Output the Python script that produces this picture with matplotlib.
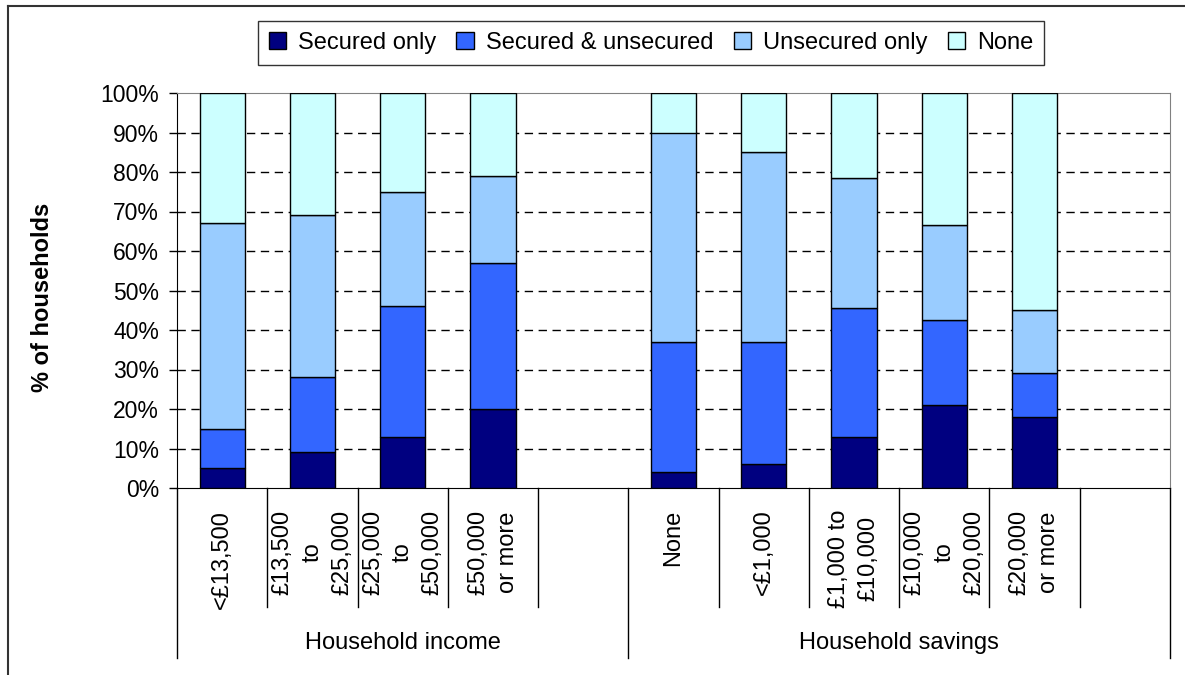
import matplotlib.pyplot as plt
import matplotlib.transforms as mtransforms
from matplotlib.lines import Line2D

plt.rcParams['font.family'] = ['Liberation Sans', 'DejaVu Sans']

# data (percent of households)
series = ["Secured only", "Secured & unsecured", "Unsecured only", "None"]
colors = ["#000080", "#3366FF", "#99CCFF", "#CCFFFF"]

income_labels = ["<£13,500", "£13,500\nto\n£25,000", "£25,000\nto\n£50,000", "£50,000\nor more"]
income_secured = [5, 9, 13, 20]
income_both = [10, 19, 33, 37]
income_unsecured = [52, 41, 29, 22]
income_none = [33, 31, 25, 21]

savings_labels = ["None", "<£1,000", "£1,000 to\n£10,000", "£10,000\nto\n£20,000", "£20,000\nor more"]
savings_secured = [4, 6, 13, 21, 18]
savings_both = [33, 31, 32.5, 21.5, 11]
savings_unsecured = [53, 48, 33, 24, 16]
savings_none = [10, 15, 21.5, 33.5, 55]

groups = ["Household income", "Household savings"]

# layout: income bars in slots 0-3, blank slot 4, savings bars 5-9, blank slot 10
n_slots = 11
xs = list(range(len(income_labels))) + [len(income_labels) + 1 + i for i in range(len(savings_labels))]
labels = income_labels + savings_labels
stacks = [
    income_secured + savings_secured,
    income_both + savings_both,
    income_unsecured + savings_unsecured,
    income_none + savings_none,
]

fig = plt.figure(figsize=(11.85, 6.75), dpi=100)
ax = fig.add_axes([177 / 1185, 1 - 488 / 675, (1170 - 177) / 1185, (488 - 93) / 675])

bottom = [0] * len(xs)
for vals, col, name in zip(stacks, colors, series):
    ax.bar(xs, vals, width=0.5, bottom=bottom, color=col, edgecolor="black",
           linewidth=1.0, zorder=3, label=name)
    bottom = [b + v for b, v in zip(bottom, vals)]

ax.set_xlim(-0.5, n_slots - 0.5)
ax.set_ylim(0, 100)
ax.set_yticks(range(0, 101, 10))
ax.set_yticklabels([f"{t}%" for t in range(0, 101, 10)], fontsize=16.5)
ax.set_xticks([])
ax.tick_params(axis="y", direction="out", length=6, width=1, pad=7)

for y in range(10, 100, 10):
    ax.axhline(y, color="black", linestyle=(0, (6, 4)), linewidth=1.0, zorder=1)

ax.spines["top"].set_color("#808080")
ax.spines["right"].set_color("#808080")
ax.spines["left"].set_color("black")
ax.spines["bottom"].set_color("black")

# category labels and separators below the axis
trans = mtransforms.blended_transform_factory(ax.transData, ax.transAxes)
for x, lab in zip(xs, labels):
    ax.text(x, -0.055, lab, transform=trans, rotation=90, ha="center", va="top",
            multialignment="center", fontsize=17, linespacing=1.45)

for i in range(n_slots + 1):
    edge = i - 0.5
    low = -0.43 if i in (0, 5, n_slots) else -0.30
    ax.add_line(Line2D([edge, edge], [0, low], transform=trans, color="black",
                       linewidth=1.0, clip_on=False))

ax.text(2, -0.392, groups[0], transform=trans, ha="center", va="center", fontsize=17)
ax.text(7.5, -0.392, groups[1], transform=trans, ha="center", va="center", fontsize=17)

fig.text(43 / 1185, 1 - 297 / 675, "% of households", rotation=90, ha="center",
         va="center", fontsize=17, fontweight="bold")

leg = fig.legend(loc="center", bbox_to_anchor=(651 / 1185, 1 - 43 / 675), ncol=4,
                 fontsize=17, frameon=True, fancybox=False, edgecolor="black",
                 handlelength=0.75, handleheight=0.75, handletextpad=0.5,
                 columnspacing=0.85, borderpad=0.45, borderaxespad=0)
leg.get_frame().set_linewidth(1.0)

# outer chart frame (left and top edges)
fig.add_artist(Line2D([8 / 1185, 8 / 1185], [0, 1 - 6 / 675], transform=fig.transFigure,
                      color="#333333", linewidth=1.5))
fig.add_artist(Line2D([8 / 1185, 1], [1 - 6 / 675, 1 - 6 / 675], transform=fig.transFigure,
                      color="#333333", linewidth=1.5))

fig.savefig("out.png", dpi=100)
